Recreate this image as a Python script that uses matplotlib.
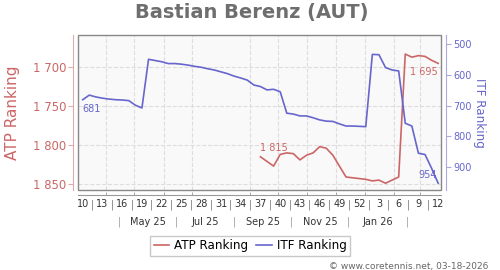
# ATP / ITF ranking history chart
import matplotlib.pyplot as plt
import matplotlib.dates as mdates
from matplotlib.lines import Line2D
from matplotlib.patches import Rectangle
from matplotlib.ticker import FuncFormatter
import numpy as np
import pandas as pd

# weekly points, week 10 of 2025 to week 12 of 2026
weeks = pd.date_range('2025-03-07', periods=55, freq='7D')

itf_rank = [681, 666, 672, 676, 679, 681, 682, 684, 699, 708,
            549, 553, 557, 563, 563, 565, 568, 572, 575, 580,
            584, 590, 596, 604, 610, 617, 633, 638, 649, 647,
            655, 725, 728, 734, 734, 740, 747, 751, 752, 760,
            767, 767, 768, 769, 533, 534, 576, 584, 587, 758,
            767, 856, 860, 905, 954]

atp_rank = [np.nan] * 27 + [1815, 1821, 1827, 1812, 1810, 1811, 1819, 1813, 1810,
                            1802, 1804, 1813, 1827, 1841, 1842, 1843, 1844, 1846,
                            1845, 1849, 1845, 1841, 1683, 1687, 1685, 1686, 1691, 1695]

week_labels = ['10', '13', '16', '19', '22', '25', '28', '31', '34', '37',
               '40', '43', '46', '49', '52', '3', '6', '9', '12']
month_labels = ['May 25', 'Jul 25', 'Sep 25', 'Nov 25', 'Jan 26']
month_mid = pd.to_datetime(['2025-05-15', '2025-07-15', '2025-09-15', '2025-11-15', '2026-01-15'])
month_seps = pd.to_datetime(['2025-04-15', '2025-06-15', '2025-08-15', '2025-10-15',
                             '2025-12-15', '2026-02-15'])

atp_ticks = [1700, 1750, 1800, 1850]
itf_ticks = [500, 600, 700, 800, 900]

RED = '#cc6666'
BLUE = '#6666cc'

def spaced(v, pos=None):
    return f'{int(round(v)):,}'.replace(',', ' ')

fig = plt.figure(figsize=(5, 2.7), dpi=100)
ax = fig.add_axes([0.156, 0.2963, 0.726, 0.5741])
ax2 = ax.twinx()
ax.set_facecolor('#f9f9f9')

ax.plot(weeks, atp_rank, color=RED, lw=1.2)
ax2.plot(weeks, itf_rank, color=BLUE, lw=1.2)

ax.set_xlim(pd.Timestamp('2025-03-02'), pd.Timestamp('2026-03-23'))
ax.set_ylim(1857.7, 1658.5)
ax2.set_ylim(976, 469.6)

ax.set_yticks(atp_ticks)
ax.yaxis.set_major_formatter(FuncFormatter(spaced))
ax2.set_yticks(itf_ticks)

# spines: gray box around the plot, offset axis lines outside
for s in ax.spines.values():
    s.set_visible(False)
for s in ax2.spines.values():
    s.set_visible(False)
ax.spines['left'].set_visible(True)
ax.spines['left'].set_position(('outward', 3.6))
ax.spines['left'].set_color('#e2aaaa')
ax.spines['bottom'].set_visible(True)
ax.spines['bottom'].set_position(('outward', 3.6))
ax.spines['bottom'].set_color('#999999')
ax2.spines['right'].set_visible(True)
ax2.spines['right'].set_position(('outward', 3.6))
ax2.spines['right'].set_color('#aaaae2')
ax2.add_patch(Rectangle((0, 0), 1, 1, transform=ax.transAxes, fill=False,
                        ec='#888888', lw=1.0, clip_on=False, zorder=5))

ax.tick_params(axis='y', colors=RED, labelsize=8.4, length=3.6, pad=1, color='#e2aaaa')
ax2.tick_params(axis='y', colors=BLUE, labelsize=7, length=3.6, pad=1.5, color='#aaaae2')

# x axis: week numbers, month ticks
ax.set_xticks(weeks[::3])
ax.set_xticklabels(week_labels)
ax.xaxis.set_minor_locator(mdates.MonthLocator())
ax.tick_params(axis='x', which='major', length=0, pad=3.2, labelsize=7, labelcolor='#333333')
ax.tick_params(axis='x', which='minor', direction='in', length=2, color='#999999')

ax.grid(axis='y', which='major', color='#dddddd', ls='--', lw=0.8)
ax.grid(axis='x', which='minor', color='#dddddd', ls='--', lw=0.8)

xt = ax.get_xaxis_transform()
for i in range(len(week_labels) - 1):
    mid = weeks[3 * i] + pd.Timedelta(days=10.5)
    ax.text(mid, -0.097, '|', transform=xt, ha='center', va='center',
            fontsize=7, color='#777777')
for d, lab in zip(month_mid, month_labels):
    ax.text(d, -0.205, lab, transform=xt, ha='center', va='center',
            fontsize=7, color='#333333')
for d in month_seps:
    ax.text(d, -0.205, '|', transform=xt, ha='center', va='center',
            fontsize=7, color='#999999')

ax.set_ylabel('ATP Ranking', color=RED, fontsize=11)
ax.yaxis.set_label_coords(-0.16, 0.5)
ax2.set_ylabel('ITF Ranking', color=BLUE, fontsize=8.6, rotation=270, va='center')
ax2.yaxis.set_label_coords(1.107, 0.5)

# value labels at the ends
ax2.annotate(spaced(itf_rank[0]), (weeks[0], itf_rank[0]), xytext=(0, -7),
             textcoords='offset points', ha='left', va='center', fontsize=7, color=BLUE)
ax2.annotate(spaced(itf_rank[-1]), (weeks[-1], itf_rank[-1]), xytext=(-1, 6),
             textcoords='offset points', ha='right', va='center', fontsize=7, color=BLUE)
ax.annotate(spaced(atp_rank[27]), (weeks[27], atp_rank[27]), xytext=(0, 6.3),
            textcoords='offset points', ha='left', va='center', fontsize=7, color=RED)
ax.annotate(spaced(atp_rank[-1]), (weeks[-1], atp_rank[-1]), xytext=(0, -6.5),
            textcoords='offset points', ha='right', va='center', fontsize=7, color=RED)

fig.text(0.503, 0.954, 'Bastian Berenz (AUT)', ha='center', va='center',
         fontsize=14, fontweight='bold', color='#6e6e6e')

handles = [Line2D([], [], color=RED, lw=1.2), Line2D([], [], color=BLUE, lw=1.2)]
fig.legend(handles, ['ATP Ranking', 'ITF Ranking'], loc='center', bbox_to_anchor=(0.5, 0.089),
           ncol=2, fontsize=8.6, frameon=True, fancybox=False, edgecolor='#bbbbbb',
           handlelength=1.3, handletextpad=0.4, columnspacing=0.7, borderpad=0.3)

fig.text(0.976, 0.012, '\u00a9 www.coretennis.net, 03-18-2026', ha='right', va='center',
         fontsize=6.5, color='#666666')

fig.savefig('out.png', dpi=100)
